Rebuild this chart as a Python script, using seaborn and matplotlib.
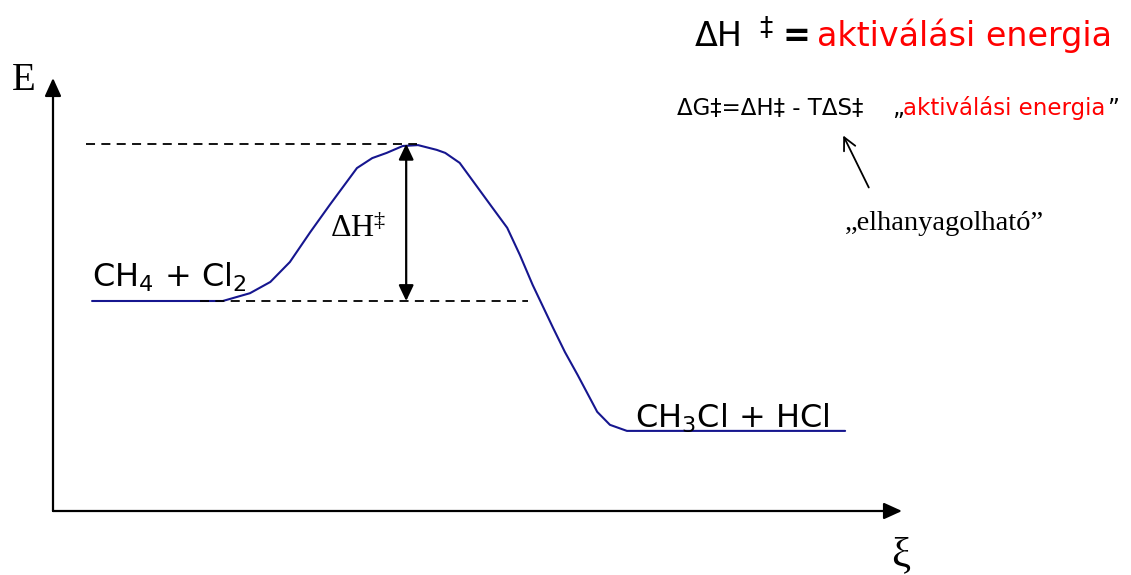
import matplotlib
matplotlib.use("Agg")
import matplotlib.pyplot as plt
import seaborn as sns
import pandas as pd

# reaction coordinate (xi) and energy, arbitrary units 0..100
xi = [4.6, 16.1, 20.0, 23.2, 25.6, 27.9, 30.3, 32.6, 35.8, 37.6, 39.3, 41.2,
      43.0, 45.2, 46.2, 47.9, 51.7, 53.5, 55.0, 56.5, 58.9, 60.3, 61.8, 64.1,
      65.6, 67.6, 93.3]
energy = [48.5, 48.5, 48.5, 50.3, 52.9, 57.5, 64.4, 70.7, 79.2, 81.5, 82.7, 84.3,
          84.5, 83.4, 82.7, 80.4, 70.2, 65.4, 59.1, 52.2, 42.3, 36.7, 31.4, 22.9,
          19.9, 18.5, 18.5]

reactant_level = 48.5
ts_level = 84.8
ts_dash = [3.9, 42.9]
reactant_dash = [17.3, 55.9]
arrow_xi = 41.6

reactant_label = "CH$_4$ + Cl$_2$"
product_label = "CH$_3$Cl + HCl"

W, H = 1131, 575
BLUE = "#16168f"
RED = "#ff0000"

sns.set_style("white")
plt.rcParams["font.family"] = ["DejaVu Sans"]
plt.rcParams["mathtext.default"] = "regular"
plt.rcParams["text.color"] = "black"

fig = plt.figure(figsize=(W / 100, H / 100), dpi=100)
ax = fig.add_axes([53 / W, 1 - 511 / H, (902 - 53) / W, (511 - 78) / H])
ax.set_xlim(0, 100)
ax.set_ylim(0, 100)
ax.axis("off")

df = pd.DataFrame({"xi": xi, "E": energy})
sns.lineplot(data=df, x="xi", y="E", sort=False, estimator=None,
             color=BLUE, lw=1.5, ax=ax)

dash = (0, (5, 3.5))
ax.plot(ts_dash, [ts_level, ts_level], color="k", lw=1.3, ls=dash)
ax.plot(reactant_dash, [reactant_level, reactant_level], color="k", lw=1.3, ls=dash)

# axes arrows
ax_arrow = dict(arrowstyle="-|>,head_length=1.1,head_width=0.5", color="k",
                lw=1.6, mutation_scale=10, shrinkA=0, shrinkB=0)
ax.annotate("", xy=(0, 1), xytext=(0, 0), xycoords="axes fraction",
            arrowprops=ax_arrow)
ax.annotate("", xy=(1, 0), xytext=(0, 0), xycoords="axes fraction",
            arrowprops=ax_arrow)

# activation enthalpy double arrow
ax.annotate("", xy=(arrow_xi, ts_level), xytext=(arrow_xi, reactant_level),
            arrowprops=dict(arrowstyle="<|-|>,head_length=0.95,head_width=0.45",
                            color="k", lw=1.6, mutation_scale=10,
                            shrinkA=0, shrinkB=0))


def ftext(x, y, s, **kw):
    return fig.text(x / W, 1 - y / H, s, **kw)


serif = ["Liberation Serif", "DejaVu Serif"]
ftext(12, 90, "E", family=serif, fontsize=28, va="baseline")
ftext(901, 556, "ξ", family=serif, fontsize=31, va="center", ha="center")
ftext(330, 237, "ΔH$^{‡}$", family=serif, fontsize=23, va="baseline")

ftext(92, 287, reactant_label, fontsize=23, va="baseline")
ftext(635, 428, product_label, fontsize=23, va="baseline")

# headline
ftext(695, 46, "ΔH", fontsize=24, va="baseline")
ftext(759, 36, "‡", fontsize=19, va="baseline")
ftext(783, 46, "=", fontsize=24, va="baseline", weight="bold")
ftext(817, 46, "aktiválási energia", fontsize=24, va="baseline", color=RED)

ftext(677, 115, "ΔG‡=ΔH‡ - TΔS‡", fontsize=16.5, va="baseline")
ftext(892, 115, "„", fontsize=16.5, va="baseline")
ftext(903, 115, "aktiválási energia", fontsize=16.5, va="baseline", color=RED)
ftext(1107, 115, "”", fontsize=16.5, va="baseline")

ftext(845, 230, "„elhanyagolható”", family=serif, fontsize=20.5, va="baseline")
fig.add_artist(matplotlib.patches.FancyArrowPatch(
    (870 / W, 1 - 190 / H), (842 / W, 1 - 133 / H), transform=fig.transFigure,
    arrowstyle="->,head_length=0.9,head_width=0.45", mutation_scale=10,
    color="k", lw=1.3))

fig.savefig("out.png", dpi=100, facecolor="white")
